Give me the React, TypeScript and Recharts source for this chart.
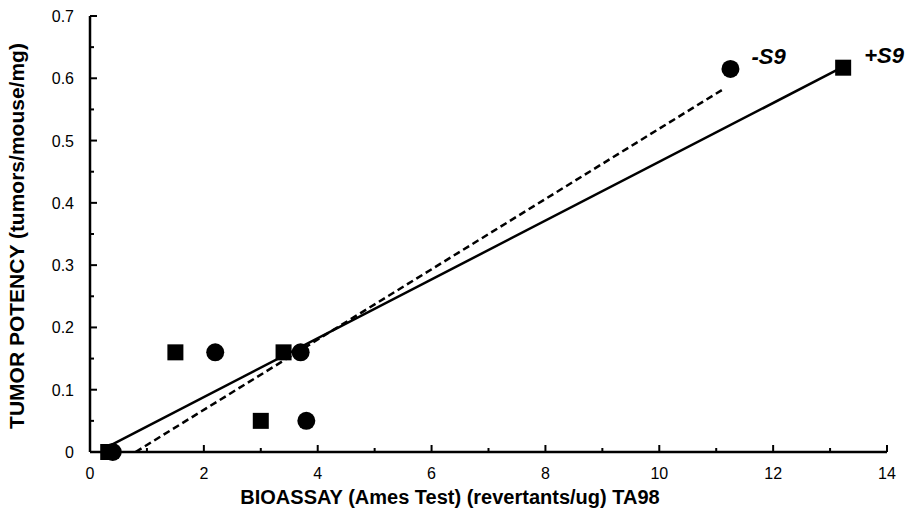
import {
  ReferenceDot,
  Scatter,
  ScatterChart,
  XAxis,
  YAxis,
} from "recharts";

// -S9 (circles) and +S9 (squares)
const minusX = [0.4, 2.2, 3.7, 3.8, 11.25];
const minusY = [0, 0.16, 0.16, 0.05, 0.615];
const plusX = [0.32, 1.5, 3.4, 3.0, 13.23];
const plusY = [0, 0.16, 0.16, 0.05, 0.617];

// fitted lines, end points
const fitPlusX = [0.3, 13.2];
const fitPlusY = [0.008, 0.617];
const fitMinusX = [0.8, 11.15];
const fitMinusY = [0, 0.584];

const xTicks = [0, 1, 2, 3, 4, 5, 6, 7, 8, 9, 10, 11, 12, 13, 14];
const yTicks = [0, 0.05, 0.1, 0.15, 0.2, 0.25, 0.3, 0.35, 0.4, 0.45, 0.5, 0.55, 0.6, 0.65, 0.7];

const zip = (xs: number[], ys: number[]) => xs.map((x, i) => ({ x, y: ys[i] }));

const minusData = zip(minusX, minusY);
const plusData = zip(plusX, plusY);
const fitPlus = zip(fitPlusX, fitPlusY);
const fitMinus = zip(fitMinusX, fitMinusY);

const FONT = "'Liberation Sans', Arial, sans-serif";

function XTick(props: any) {
  const { x, y, payload } = props;
  const major = payload.value % 2 === 0;
  return (
    <g>
      <line x1={x} x2={x} y1={y} y2={y - (major ? 7 : 4)} stroke="#000" strokeWidth={2} />
      {major && (
        <text x={x} y={y + 27} textAnchor="middle" fontSize={16} fontFamily={FONT} fill="#000">
          {payload.value}
        </text>
      )}
    </g>
  );
}

function YTick(props: any) {
  const { x, y, payload } = props;
  const v = Number(payload.value.toFixed(2));
  const major = Math.round(v * 100) % 10 === 0;
  return (
    <g>
      <line x1={x} x2={x + (major ? 7 : 4)} y1={y} y2={y} stroke="#000" strokeWidth={2} />
      {major && (
        <text x={x - 16} y={y + 6} textAnchor="end" fontSize={16} fontFamily={FONT} fill="#000">
          {String(v)}
        </text>
      )}
    </g>
  );
}

const Square = (p: any) => (
  <rect x={p.cx - 8} y={p.cy - 8} width={16} height={16} fill="#000" />
);
const Dot = (p: any) => <circle cx={p.cx} cy={p.cy} r={9} fill="#000" />;
const Nothing = () => <g />;

const tag = (text: string) => (p: any) => {
  const { viewBox } = p;
  return (
    <text
      x={viewBox.x + 21}
      y={viewBox.y - 5}
      fontSize={22}
      fontWeight="bold"
      fontStyle="italic"
      fontFamily={FONT}
      fill="#000"
    >
      {text}
    </text>
  );
};

export default function App() {
  return (
    <div style={{ position: "absolute", left: 0, top: 0, background: "#fff" }}>
      <ScatterChart
        width={911}
        height={519}
        margin={{ top: 16, right: 24, left: 40, bottom: 27 }}
      >
        <XAxis
          type="number"
          dataKey="x"
          domain={[0, 14]}
          ticks={xTicks}
          interval={0}
          tick={<XTick />}
          tickLine={false}
          tickSize={0}
          tickMargin={0}
          axisLine={{ stroke: "#000", strokeWidth: 2.5 }}
          height={40}
          label={{
            value: "BIOASSAY (Ames Test) (revertants/ug) TA98",
            content: () => (
              <text
                x={450}
                y={504}
                textAnchor="middle"
                fontSize={20}
                fontWeight="bold"
                fontFamily={FONT}
                fill="#000"
              >
                BIOASSAY (Ames Test) (revertants/ug) TA98
              </text>
            ),
          }}
        />
        <YAxis
          type="number"
          dataKey="y"
          domain={[0, 0.7]}
          ticks={yTicks}
          interval={0}
          tick={<YTick />}
          tickLine={false}
          tickSize={0}
          tickMargin={0}
          axisLine={{ stroke: "#000", strokeWidth: 2.5 }}
          width={50}
          label={{
            value: "TUMOR POTENCY (tumors/mouse/mg)",
            content: () => (
              <text
                x={24}
                y={236}
                transform="rotate(-90 24 236)"
                textAnchor="middle"
                fontSize={21}
                fontWeight="bold"
                fontFamily={FONT}
                fill="#000"
              >
                TUMOR POTENCY (tumors/mouse/mg)
              </text>
            ),
          }}
        />
        <Scatter
          data={fitPlus}
          line={{ stroke: "#000", strokeWidth: 2.5 }}
          shape={<Nothing />}
          isAnimationActive={false}
        />
        <Scatter
          data={fitMinus}
          line={{ stroke: "#000", strokeWidth: 2.5, strokeDasharray: "7 4" }}
          shape={<Nothing />}
          isAnimationActive={false}
        />
        <Scatter data={plusData} shape={<Square />} isAnimationActive={false} />
        <Scatter data={minusData} shape={<Dot />} isAnimationActive={false} />
        <ReferenceDot
          x={minusX[4]}
          y={minusY[4]}
          r={0}
          stroke="none"
          label={{ value: "-S9", content: tag("-S9") }}
        />
        <ReferenceDot
          x={plusX[4]}
          y={plusY[4]}
          r={0}
          stroke="none"
          label={{ value: "+S9", content: tag("+S9") }}
        />
      </ScatterChart>
    </div>
  );
}
